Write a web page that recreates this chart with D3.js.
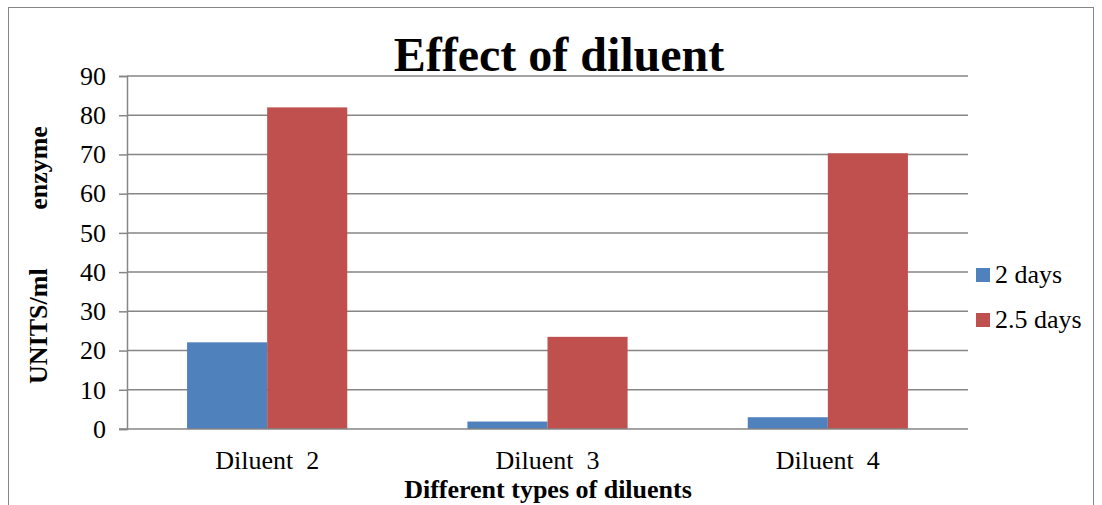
<!DOCTYPE html>
<html>
<head>
<meta charset="utf-8">
<script src="https://cdn.jsdelivr.net/npm/d3@7/dist/d3.min.js"></script>
<style>
  html, body { margin: 0; padding: 0; background: #fff; }
  svg { display: block; }
  svg text { font-family: "Liberation Serif", "Times New Roman", serif; }
</style>
</head>
<body>
<svg id="chart" width="1102" height="505"></svg>
<script>
// Enzyme activity per diluent, two incubation times
const categories = ["Diluent  2", "Diluent  3", "Diluent  4"];
const seriesNames = ["2 days", "2.5 days"];
const days2 = [22.1, 1.9, 3.0];
const days25 = [82.0, 23.5, 70.3];
const yTicks = [0, 10, 20, 30, 40, 50, 60, 70, 80, 90];
const colors = ["#4F81BD", "#C0504D"];

const title = "Effect of diluent";
const xTitle = "Different types of diluents";
const yTitle = "UNITS/ml         enzyme";

const FONT = "Liberation Serif";
const table = categories.map((c, i) => ({ cat: c, values: [days2[i], days25[i]] }));

const svg = d3.select("#chart");
const plot = { left: 127, right: 968, top: 76, bottom: 429 };

// outer frame
svg.append("rect")
  .attr("x", 8.5).attr("y", 7.5)
  .attr("width", 1085).attr("height", 520)
  .attr("fill", "none").attr("stroke", "#868686").attr("stroke-width", 1);

const x = d3.scaleBand().domain(categories).range([plot.left, plot.right]).padding(0);
const xInner = d3.scaleBand().domain(seriesNames).range([0, x.bandwidth()])
  .paddingInner(0).paddingOuter(0.75);
const y = d3.scaleLinear().domain([0, 90]).range([plot.bottom, plot.top]);

// horizontal gridlines
svg.append("g")
  .selectAll("line")
  .data(yTicks.filter(t => t > 0))
  .join("line")
  .attr("x1", plot.left).attr("x2", plot.right)
  .attr("y1", d => y(d)).attr("y2", d => y(d))
  .attr("stroke", "#868686").attr("stroke-width", 1.5);

// bars
const groups = svg.append("g")
  .selectAll("g")
  .data(table)
  .join("g")
  .attr("transform", d => `translate(${x(d.cat)},0)`);

groups.selectAll("rect")
  .data(d => d.values.map((v, i) => ({ key: seriesNames[i], v, i })))
  .join("rect")
  .attr("x", d => xInner(d.key))
  .attr("width", xInner.bandwidth())
  .attr("y", d => y(d.v))
  .attr("height", d => y(0) - y(d.v))
  .attr("fill", d => colors[d.i]);

// y axis
const yAxis = svg.append("g")
  .attr("transform", `translate(${plot.left},0)`)
  .call(d3.axisLeft(y).tickValues(yTicks).tickSize(8).tickPadding(13));
yAxis.attr("font-family", FONT).attr("font-size", 26);
yAxis.select(".domain").attr("stroke", "#868686").attr("stroke-width", 1.5);
yAxis.selectAll(".tick line").attr("stroke", "#868686").attr("stroke-width", 1.5);
yAxis.selectAll(".tick text").attr("fill", "#000");

// x axis
const xAxis = svg.append("g")
  .attr("transform", `translate(0,${plot.bottom})`)
  .call(d3.axisBottom(x).tickSize(0).tickPadding(22));
xAxis.attr("font-family", FONT).attr("font-size", 26);
xAxis.select(".domain").attr("stroke", "#868686").attr("stroke-width", 1.5)
  .attr("d", `M${plot.left - 8},0H${plot.right}`);
xAxis.selectAll(".tick text").attr("fill", "#000").style("white-space", "pre");

// titles
svg.append("text")
  .attr("x", 559).attr("y", 71)
  .attr("text-anchor", "middle")
  .attr("font-family", FONT)
  .attr("font-size", 48).attr("font-weight", "bold")
  .text(title);

svg.append("text")
  .attr("x", 548).attr("y", 498)
  .attr("text-anchor", "middle")
  .attr("font-family", FONT)
  .attr("font-size", 26).attr("font-weight", "bold")
  .text(xTitle);

svg.append("text")
  .attr("transform", "translate(47,255) rotate(-90)")
  .attr("text-anchor", "middle")
  .attr("font-family", FONT)
  .attr("font-size", 26).attr("font-weight", "bold")
  .style("white-space", "pre")
  .text(yTitle);

// legend
const legend = svg.append("g")
  .selectAll("g")
  .data(seriesNames)
  .join("g")
  .attr("transform", (d, i) => `translate(976,${268 + i * 45})`);
legend.append("rect")
  .attr("width", 14).attr("height", 14)
  .attr("fill", (d, i) => colors[i]);
legend.append("text")
  .attr("x", 19).attr("y", 15)
  .attr("font-family", FONT)
  .attr("font-size", 26)
  .text(d => d);
</script>
</body>
</html>
